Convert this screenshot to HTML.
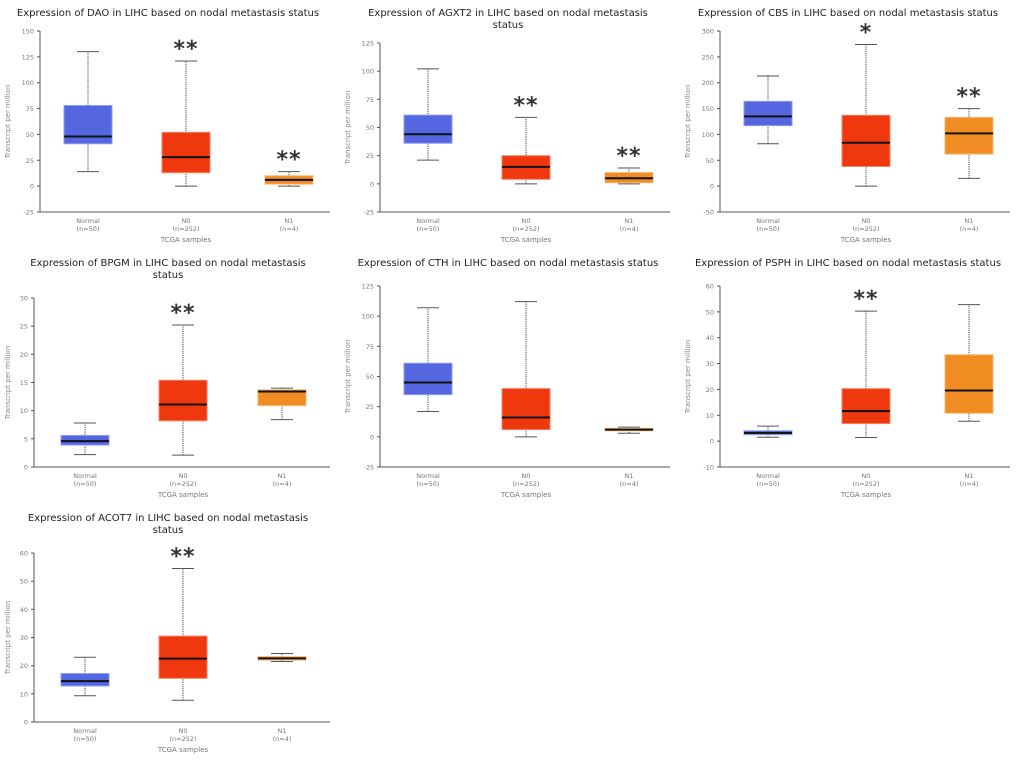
<!DOCTYPE html>
<html><head><meta charset="utf-8"><style>
body{margin:0;background:#fff;}
svg{display:block;font-family:"DejaVu Sans","Liberation Sans",sans-serif;}
</style></head><body>
<svg id="c" width="1020" height="762"></svg>
<script>
const categories=["Normal","N0","N1"];
const counts=["(n=50)","(n=252)","(n=4)"];
const genes=["DAO","AGXT2","CBS","BPGM","CTH","PSPH","ACOT7"];
// [lowWhisker, q1, median, q3, highWhisker] per category
const daoVals=[[14,41,48,78,130],[0,13,28,52,121],[0,2,6,10,14]];
const agxt2Vals=[[21,36,44,61,102],[0,4,15,25,59],[0,1,5,10,14]];
const cbsVals=[[82,117,135,164,213],[0,38,84,137,274],[15,62,102,133,150]];
const bpgmVals=[[2.2,3.9,4.6,5.6,7.8],[2.1,8.2,11.1,15.4,25.2],[8.4,10.9,13.4,13.7,14]];
const cthVals=[[21,35,45,61,107],[0,6,16,40,112],[3,5,6,7,8]];
const psphVals=[[1.5,2.5,3.2,4,5.8],[1.4,6.8,11.6,20.3,50.3],[7.7,10.8,19.6,33.4,52.8]];
const acot7Vals=[[9.3,12.8,14.5,17.2,23],[7.7,15.5,22.5,30.5,54.5],[21.5,22,22.6,23.2,24.3]];
const daoTicks=[-25,0,25,50,75,100,125,150];
const agxt2Ticks=[-25,0,25,50,75,100,125];
const cbsTicks=[-50,0,50,100,150,200,250,300];
const bpgmTicks=[0,5,10,15,20,25,30];
const cthTicks=[-25,0,25,50,75,100,125];
const psphTicks=[-10,0,10,20,30,40,50,60];
const acot7Ticks=[0,10,20,30,40,50,60];
const daoStars=["","**","**"];
const agxt2Stars=["","**","**"];
const cbsStars=["","*","**"];
const bpgmStars=["","**",""];
const cthStars=["","",""];
const psphStars=["","**",""];
const acot7Stars=["","**",""];

const NS="http://www.w3.org/2000/svg";
const svg=document.getElementById('c');
function el(t,a,p){const e=document.createElementNS(NS,t);for(const k in a)e.setAttribute(k,a[k]);(p||svg).appendChild(e);return e;}
const colors=["#5466e0","#f0380f","#f08c22"];
const borders=["#8f9cf0","#f7826a","#f7b670"];

const panels=[
 {g:0,vals:daoVals,ticks:daoTicks,stars:daoStars,ox:0,oy:0,ax:40,yt:31,yb:212,two:false},
 {g:1,vals:agxt2Vals,ticks:agxt2Ticks,stars:agxt2Stars,ox:340,oy:0,ax:40,yt:43,yb:212,two:true},
 {g:2,vals:cbsVals,ticks:cbsTicks,stars:cbsStars,ox:680,oy:0,ax:40,yt:31,yb:212,two:false},
 {g:3,vals:bpgmVals,ticks:bpgmTicks,stars:bpgmStars,ox:0,oy:250,ax:34,yt:298,yb:467,two:true},
 {g:4,vals:cthVals,ticks:cthTicks,stars:cthStars,ox:340,oy:250,ax:40,yt:286,yb:467,two:false},
 {g:5,vals:psphVals,ticks:psphTicks,stars:psphStars,ox:680,oy:250,ax:40,yt:286,yb:467,two:false},
 {g:6,vals:acot7Vals,ticks:acot7Ticks,stars:acot7Stars,ox:0,oy:505,ax:34,yt:553,yb:722,two:true}
];

panels.forEach(p=>{
 const gene=genes[p.g];
 const g=el('g',{});
 
 
 const x0=p.ox+p.ax, x1=p.ox+330;
 const tmin=p.ticks[0], tmax=p.ticks[p.ticks.length-1];
 const y=v=>p.yb-(v-tmin)/(tmax-tmin)*(p.yb-p.yt);
 const cx=[p.ox+(p.ax===34?85:88),p.ox+(p.ax===34?183:186),p.ox+(p.ax===34?282:289)];
 const bw=48;
 const tcx=p.ox+168;
 const ty=p.oy+16;
 const tfs=10;
 if(p.two){
  const t1=el('text',{x:tcx,y:ty,'text-anchor':'middle','font-size':tfs,fill:'#222'},g);
  t1.textContent='Expression of '+gene+' in LIHC based on nodal metastasis';
  
  const t2=el('text',{x:tcx,y:ty+12,'text-anchor':'middle','font-size':tfs,fill:'#222'},g);
  t2.textContent='status';
  
 } else {
  const t=el('text',{x:tcx,y:ty,'text-anchor':'middle','font-size':tfs,fill:'#222'},g);
  t.textContent='Expression of '+gene+' in LIHC based on nodal metastasis status';
  
 }
 const ya=el('line',{x1:x0,y1:p.yt,x2:x0,y2:p.yb,stroke:'#555','stroke-width':1},g);
 
 const xa=el('line',{x1:x0,y1:p.yb,x2:x1,y2:p.yb,stroke:'#555','stroke-width':1},g);
 
 p.ticks.forEach(tv=>{
  const yy=y(tv);
  const tk=el('line',{x1:x0-3,y1:yy,x2:x0,y2:yy,stroke:'#555'},g);
  
  const tl=el('text',{x:x0-6,y:yy+2.5,'text-anchor':'end','font-size':6.5,fill:'#777'},g);
  tl.textContent=tv;
  
 });
 const yl=el('text',{x:0,y:0,'text-anchor':'middle','font-size':7,fill:'#888',transform:`translate(${p.ox+10},${(p.yt+p.yb)/2}) rotate(-90)`},g);
 yl.textContent='Transcript per million';
 
 const xt=el('text',{x:p.ox+(p.ax===34?183:186),y:p.yb+30,'text-anchor':'middle','font-size':7,fill:'#777'},g);
 xt.textContent='TCGA samples';
 
 categories.forEach((c,i)=>{
  const v=p.vals[i];
  const l1=el('text',{x:cx[i],y:p.yb+11,'text-anchor':'middle','font-size':6.5,fill:'#777'},g);
  l1.textContent=c;
  
  const l2=el('text',{x:cx[i],y:p.yb+19,'text-anchor':'middle','font-size':6.5,fill:'#777'},g);
  l2.textContent=counts[i];
  
  const wk=el('line',{x1:cx[i],y1:y(v[0]),x2:cx[i],y2:y(v[4]),stroke:'#666','stroke-width':1.2,'stroke-dasharray':'1.2,1'},g);
  
  [v[0],v[4]].forEach(w=>{
   const cap=el('line',{x1:cx[i]-11,y1:y(w),x2:cx[i]+11,y2:y(w),stroke:'#555','stroke-width':1},g);
   
  });
  const bx=el('rect',{x:cx[i]-bw/2,y:y(v[3]),width:bw,height:Math.max(1,y(v[1])-y(v[3])),fill:colors[i],stroke:borders[i],'stroke-width':1},g);
  
  const md=el('line',{x1:cx[i]-bw/2,y1:y(v[2]),x2:cx[i]+bw/2,y2:y(v[2]),stroke:'#111','stroke-width':2},g);
  
  if(p.stars[i]){
   const st=el('text',{x:cx[i],y:y(v[4])-5,'text-anchor':'middle','font-size':22,'font-weight':'bold',fill:'#333','letter-spacing':'1'},g);
   st.textContent=p.stars[i];
   
  }
 });
});
</script>
</body></html>
